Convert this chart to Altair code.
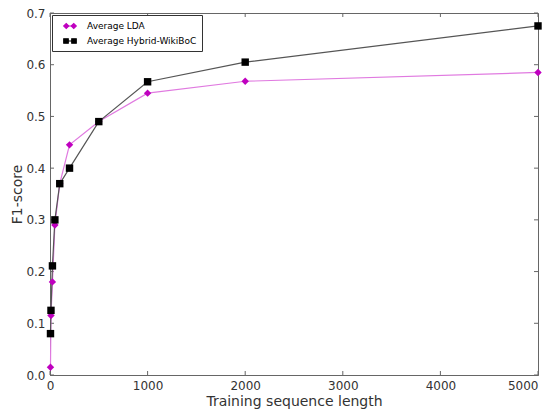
import altair as alt
import pandas as pd

x_vals = [5, 10, 25, 50, 100, 200, 500, 1000, 2000, 5000]
lda = [0.015, 0.115, 0.18, 0.29, 0.37, 0.445, 0.49, 0.545, 0.568, 0.585]
hybrid = [0.08, 0.125, 0.211, 0.30, 0.37, 0.40, 0.49, 0.567, 0.605, 0.675]
series = ["Average LDA", "Average Hybrid-WikiBoC"]
x_ticks = [0, 1000, 2000, 3000, 4000, 5000]
y_ticks = [0, 0.1, 0.2, 0.3, 0.4, 0.5, 0.6, 0.7]
marker_colors = ["#bf00bf", "#000000"]
line_colors = ["#e07ae0", "#555555"]

rows = []
for s, vals in zip(series, [lda, hybrid]):
    for x, y in zip(x_vals, vals):
        rows.append({"series": s, "x": x, "y": y})
df = pd.DataFrame(rows)
xt = pd.DataFrame({"x": x_ticks})
yt = pd.DataFrame({"y": y_ticks})

W, H = 488, 362
font = "DejaVu Sans"
xscale = alt.Scale(domain=[0, 5000], nice=False)
yscale = alt.Scale(domain=[0, 0.7], nice=False)
xs = alt.X("x:Q", scale=xscale,
           axis=alt.Axis(title="Training sequence length", values=x_ticks,
                         format="d", grid=False, tickSize=0, labelFontSize=12, titleFontSize=14,
                         labelFont=font, titleFont=font, labelColor="#333", titleColor="#333",
                         titleFontWeight="normal", labelFlush=False, labelOverlap=False,
                         labelAlign={"condition": {"test": "datum.value == 5000", "value": "right"},
                                     "value": "center"},
                         domainColor="#666", titlePadding=3, labelPadding=5))
ys = alt.Y("y:Q", scale=yscale,
           axis=alt.Axis(title="F1-score", values=y_ticks,
                         format=".1f", grid=False, tickSize=0, labelFontSize=12, titleFontSize=14,
                         labelFont=font, titleFont=font, labelColor="#333", titleColor="#333",
                         titleFontWeight="normal", labelFlush=False, labelOverlap=False,
                         domainColor="#666", titlePadding=1, labelPadding=5))

lines = alt.Chart(df).mark_line(strokeWidth=1.2, clip=False).encode(
    x=xs, y=ys,
    color=alt.Color("series:N", scale=alt.Scale(domain=series, range=line_colors), legend=None),
)

points = alt.Chart(df).mark_point(filled=True, size=55, opacity=1, clip=False).encode(
    x=xs, y=ys,
    color=alt.Color("series:N", scale=alt.Scale(domain=series, range=marker_colors), legend=None),
    shape=alt.Shape("series:N", scale=alt.Scale(domain=series, range=["diamond", "square"]), legend=None),
)

diamond2 = ("M-1.25,0L-0.75,-0.5L-0.25,0L-0.75,0.5Z "
            "M0.25,0L0.75,-0.5L1.25,0L0.75,0.5Z M-0.75,0L0.75,0")
square2 = ("M-1.25,-0.45L-0.35,-0.45L-0.35,0.45L-1.25,0.45Z "
           "M0.35,-0.45L1.25,-0.45L1.25,0.45L0.35,0.45Z M-0.8,0L0.8,0")

leg = alt.Legend(title=None, orient="top-left", offset=2, fillColor="white",
                 strokeColor="#333", padding=5, labelFontSize=9, labelFont=font,
                 symbolSize=100, rowPadding=4, labelColor="#000", symbolOpacity=1,
                 symbolStrokeWidth=1.2, symbolOffset=7, labelOffset=11, labelLimit=300)
legend_layer = alt.Chart(df).mark_point(filled=True, size=1, opacity=0, strokeWidth=1.2).encode(
    x=xs, y=ys,
    color=alt.Color("series:N", scale=alt.Scale(domain=series, range=marker_colors), legend=leg),
    stroke=alt.Stroke("series:N", scale=alt.Scale(domain=series, range=marker_colors), legend=leg),
    shape=alt.Shape("series:N", scale=alt.Scale(domain=series, range=[diamond2, square2]), legend=leg),
)

tick_style = dict(color="#666", strokeWidth=1)
xticks_b = alt.Chart(xt).mark_rule(**tick_style).encode(x=alt.X("x:Q", scale=xscale), y=alt.value(H), y2=alt.value(H - 4))
xticks_t = alt.Chart(xt).mark_rule(**tick_style).encode(x=alt.X("x:Q", scale=xscale), y=alt.value(0), y2=alt.value(4))
yticks_l = alt.Chart(yt).mark_rule(**tick_style).encode(y=alt.Y("y:Q", scale=yscale), x=alt.value(0), x2=alt.value(4))
yticks_r = alt.Chart(yt).mark_rule(**tick_style).encode(y=alt.Y("y:Q", scale=yscale), x=alt.value(W), x2=alt.value(W - 4))

chart = alt.layer(xticks_b, xticks_t, yticks_l, yticks_r, lines, points, legend_layer).resolve_scale(
    color="independent", shape="independent", stroke="independent").properties(
    width=W, height=H,
    autosize=alt.AutoSizeParams(type="none"),
    padding={"left": 42, "top": 5, "right": 7, "bottom": 38},
).configure_view(stroke="#666", strokeWidth=1)

chart.save("out.html", embed_options={"renderer": "svg", "actions": False})
